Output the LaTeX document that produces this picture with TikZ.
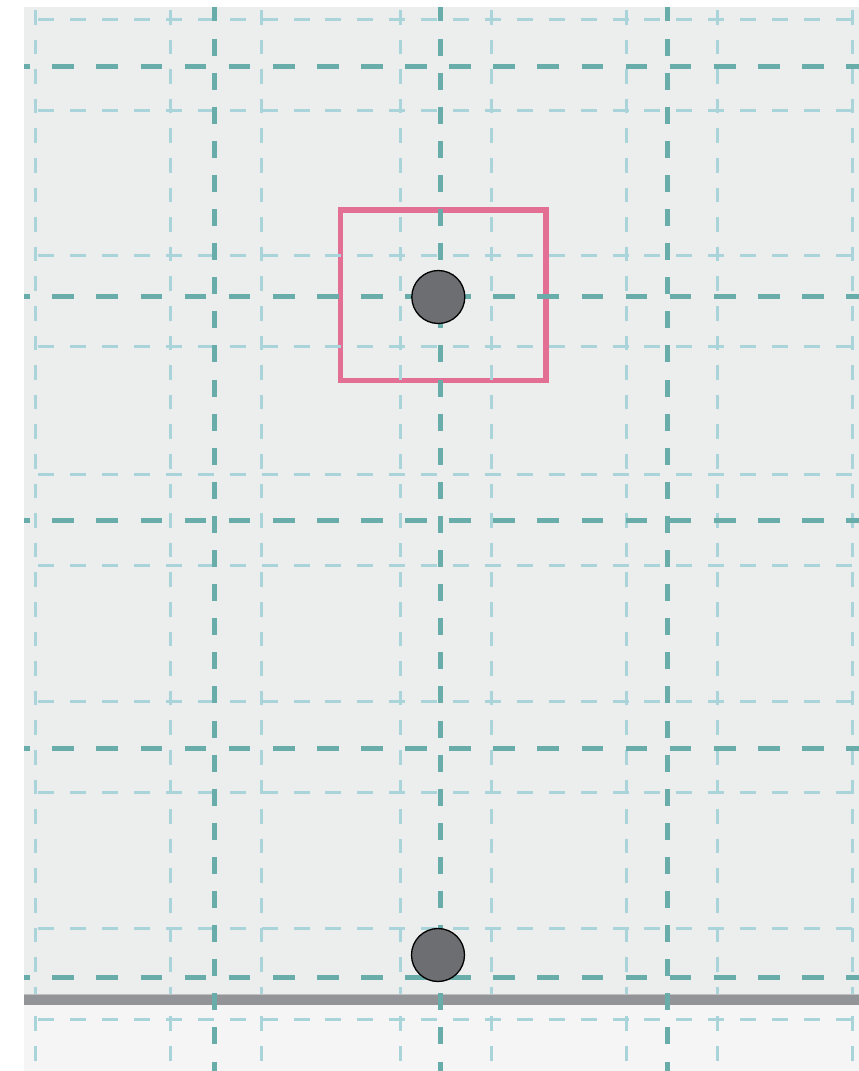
\documentclass[tikz,border=0pt]{standalone}
\usetikzlibrary{calc}
\definecolor{bgmain}{HTML}{ECEEED}
\definecolor{bglow}{HTML}{F5F5F5}
\definecolor{barcol}{HTML}{939497}
\definecolor{darkteal}{HTML}{68ADA9}
\definecolor{lightteal}{HTML}{A9D4DA}
\definecolor{pinkcol}{HTML}{E46F95}
\definecolor{dotcol}{HTML}{6D6E72}
\tikzset{
  darkh/.style={draw=darkteal, line width=5pt, dash pattern=on 21.7pt off 22.4pt},
  darkv/.style={draw=darkteal, line width=5pt, dash pattern=on 17pt off 17.1pt},
  lighth/.style={draw=lightteal, line width=3pt, dash pattern=on 16pt off 15.9pt},
  lightv/.style={draw=lightteal, line width=3pt, dash pattern=on 14.5pt off 15.1pt},
  focusbox/.style={draw=pinkcol, line width=5.5pt},
  dot/.style={circle, fill=dotcol, draw=black, line width=1.3pt, minimum size=53pt, inner sep=0pt}
}
\begin{document}
\begin{tikzpicture}[x=1pt, y=-1pt]
\useasboundingbox (0,0) rectangle (859,1071);
\fill[white] (0,0) rectangle (859,1071);
\fill[bgmain] (24,7) rectangle (859,999);
\fill[bglow] (24,999) rectangle (859,1071);
\draw[focusbox] (340.3,210) rectangle (546,380.3);
\begin{scope}
  \clip (24,7) rectangle (859,1071);
  % light grid
  \foreach \y in {19,110,255.7,346.7,474,565.3,701.7,792.7,928.3,1019.3}
    \draw[lighth] (38.3,\y) -- (853,\y);
  \foreach \x in {35.5,170,261,400,491.7,626.7,717.7,852.3}
    \draw[lightv] (\x,10) -- (\x,1071);
  % ground bar
  \draw[barcol, line width=10.5pt] (24,999.5) -- (859,999.5);
  \draw[black!25, line width=0.8pt] (24,994.6) -- (859,994.6);
  % dark grid
  \foreach \y in {66.7,296,520.7,748.3,977.3}
    \draw[darkh] (8.2,\y) -- (859,\y);
  \foreach \x in {214.3,440,667.7}
    \draw[darkv] (\x,4.4) -- (\x,1071);
\end{scope}
\node[dot] (top) at (438.3,297) {};
\node[dot] (bottom) at (438,955) {};
\end{tikzpicture}
\end{document}
